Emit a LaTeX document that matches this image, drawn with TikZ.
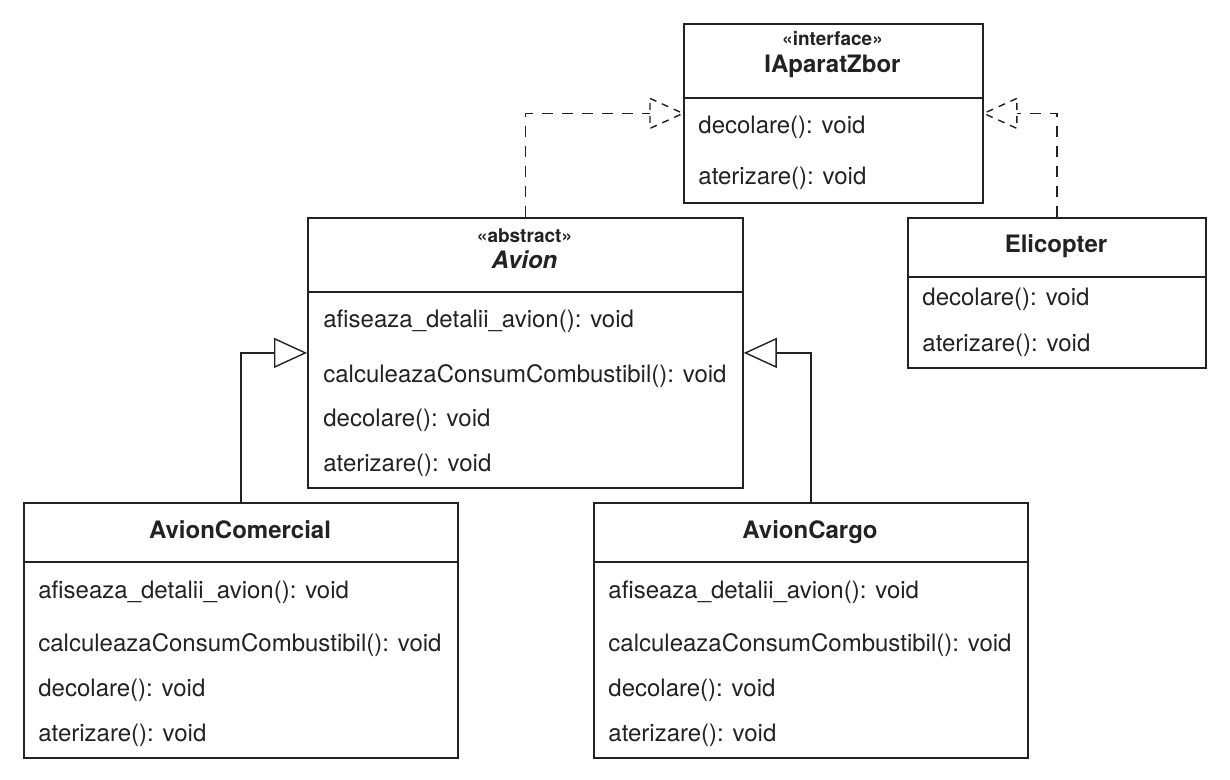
\documentclass[tikz,border=0pt]{standalone}
\usepackage{fontspec}
\setmainfont{TeX Gyre Heros}
\usepackage{tikz}
\usetikzlibrary{arrows.meta}
\definecolor{ink}{RGB}{34,34,34}

\begin{document}
\begin{tikzpicture}[x=0.5pt,y=-0.5pt,
    klass/.style={draw=ink,line width=0.9pt,anchor=north west,inner sep=0pt},
    title/.style={text=ink,font=\fontsize{12}{14}\selectfont\bfseries,anchor=base,inner sep=0pt},
    stereo/.style={text=ink,font=\fontsize{9.5}{11}\selectfont\bfseries,anchor=base,inner sep=0pt},
    meth/.style={text=ink,font=\fontsize{12}{14}\selectfont,anchor=base west,inner sep=0pt},
    sep/.style={draw=ink,line width=0.9pt},
    link/.style={draw=ink,line width=0.7pt},
    realize/.style={link,dash pattern=on 5.5pt off 4.5pt},
    realtip/.style={link,dash pattern=on 3.5pt off 3pt},
    inherit/.style={link,-{Triangle[open,length=16.5pt,width=15pt]}}]
  \useasboundingbox (0,0) rectangle (1230,780);
  \begin{scope}
    \node[klass,minimum width=149.5pt,minimum height=89.5pt] (iaparat) at (683,23) {};
    \draw[sep] (683,98) -- (982,98);
    \node[stereo] (iaparat-st) at (832.5,46) {«interface»};
    \node[title] (iaparat-t) at (832.5,73) {IAparatZbor};
    \node[meth] (iaparat-m1) at (698,134) {decolare(): void};
    \node[meth] (iaparat-m2) at (698,185) {aterizare(): void};
  \end{scope}
  \begin{scope}
    \node[klass,minimum width=217.5pt,minimum height=135pt] (avion) at (307,217) {};
    \draw[sep] (307,292) -- (742,292);
    \node[stereo] (avion-st) at (524.5,243) {«abstract»};
    \node[title,font=\fontsize{12}{14}\selectfont\bfseries\itshape] (avion-t) at (524.5,269) {Avion};
    \node[meth] (avion-m1) at (323,328) {afiseaza\_detalii\_avion(): void};
    \node[meth] (avion-m2) at (323,382) {calculeazaConsumCombustibil(): void};
    \node[meth] (avion-m3) at (323,426) {decolare(): void};
    \node[meth] (avion-m4) at (323,471) {aterizare(): void};
  \end{scope}
  \begin{scope}
    \node[klass,minimum width=149pt,minimum height=75pt] (elicopter) at (907,217) {};
    \draw[sep] (907,277) -- (1205,277);
    \node[title] (elicopter-t) at (1056,253) {Elicopter};
    \node[meth] (elicopter-m1) at (922,306) {decolare(): void};
    \node[meth] (elicopter-m2) at (922,351) {aterizare(): void};
  \end{scope}
  \begin{scope}
    \node[klass,minimum width=217pt,minimum height=127.5pt] (comercial) at (23,502) {};
    \draw[sep] (23,562) -- (457,562);
    \node[title] (comercial-t) at (240,538) {AvionComercial};
    \node[meth] (comercial-m1) at (38,598) {afiseaza\_detalii\_avion(): void};
    \node[meth] (comercial-m2) at (38,651) {calculeazaConsumCombustibil(): void};
    \node[meth] (comercial-m3) at (38,696) {decolare(): void};
    \node[meth] (comercial-m4) at (38,741) {aterizare(): void};
  \end{scope}
  \begin{scope}
    \node[klass,minimum width=217pt,minimum height=127.5pt] (cargo) at (593,502) {};
    \draw[sep] (593,562) -- (1027,562);
    \node[title] (cargo-t) at (810,538) {AvionCargo};
    \node[meth] (cargo-m1) at (608,598) {afiseaza\_detalii\_avion(): void};
    \node[meth] (cargo-m2) at (608,651) {calculeazaConsumCombustibil(): void};
    \node[meth] (cargo-m3) at (608,696) {decolare(): void};
    \node[meth] (cargo-m4) at (608,741) {aterizare(): void};
  \end{scope}
  \coordinate (iaparat-l) at ([xshift=-16.5pt]iaparat.west);
  \coordinate (iaparat-r) at ([xshift=16.5pt]iaparat.east);
  \draw[realize] (avion.north) |- (iaparat-l);
  \draw[realtip] ([yshift=7.5pt]iaparat-l) -- (iaparat.west) -- ([yshift=-7.5pt]iaparat-l) -- cycle;
  \draw[realize] (elicopter.north) |- (iaparat-r);
  \draw[realtip] ([yshift=7.5pt]iaparat-r) -- (iaparat.east) -- ([yshift=-7.5pt]iaparat-r) -- cycle;
  \draw[inherit] (comercial.north) |- (avion.west);
  \draw[inherit] (cargo.north) |- (avion.east);
\end{tikzpicture}
\end{document}
